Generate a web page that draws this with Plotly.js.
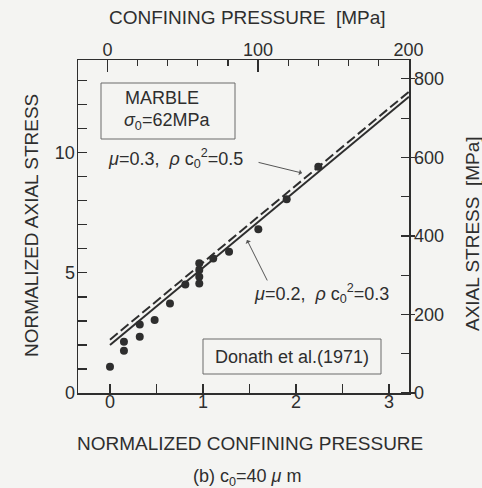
<!DOCTYPE html>
<html>
<head>
<meta charset="utf-8">
<script src="https://cdn.plot.ly/plotly-3.0.1.min.js"></script>
<style>
  html, body { margin: 0; padding: 0; background: #f4f4f2; }
  #chart { width: 482px; height: 488px; }
</style>
</head>
<body>
<div id="chart"></div>
<script>
// Donath et al. (1971) marble data, normalized by sigma0 = 62 MPa
const normConfining = [0.0, 0.15, 0.15, 0.32, 0.32, 0.48, 0.645, 0.81, 0.96, 0.96, 0.96, 0.96, 1.11, 1.28, 1.595, 1.9, 2.24];
const normAxial     = [1.09, 1.76, 2.13, 2.34, 2.85, 3.04, 3.73, 4.52, 5.40, 5.12, 4.84, 4.56, 5.60, 5.88, 6.82, 8.06, 9.42];

// Model curves (end points across the plotted range)
const curveX = [0.0, 3.215];
const curveMu02 = [2.00, 12.33];   // mu = 0.2, rho c0^2 = 0.3 (solid)
const curveMu03 = [2.22, 12.54];   // mu = 0.3, rho c0^2 = 0.5 (dashed)

const sigma0 = 62; // MPa

// Tick labels
const bottomTicks = [0, 1, 2, 3];
const leftTicks = [0, 5, 10];
const topTicks = [0, 100, 200];
const rightTicks = [0, 200, 400, 600, 800];

const ink = '#2e2e2e';
const FONT = 'Liberation Sans, Arial, Helvetica, sans-serif';

// plot area in pixels
const L = 78, R = 409, T = 60, B = 393;
const px = x => (x - L) / (R - L);
const py = y => (B - y) / (B - T);

const traces = [
  {
    x: curveX, y: curveMu02, mode: 'lines', type: 'scatter',
    line: {color: ink, width: 2}, hoverinfo: 'skip', showlegend: false
  },
  {
    x: curveX, y: curveMu03, mode: 'lines', type: 'scatter',
    line: {color: ink, width: 2, dash: '10px,4px'}, hoverinfo: 'skip', showlegend: false
  },
  {
    x: normConfining, y: normAxial, mode: 'markers', type: 'scatter',
    marker: {color: ink, size: 8}, hoverinfo: 'skip', showlegend: false
  },
  // same data in MPa on the secondary axes (keeps the top/right axes active)
  {
    x: normConfining.map(v => v * sigma0), y: normAxial.map(v => v * sigma0),
    xaxis: 'x2', yaxis: 'y2', mode: 'markers', type: 'scatter',
    marker: {opacity: 0, size: 1}, hoverinfo: 'skip', showlegend: false
  }
];

const axisFont = {family: FONT, size: 18, color: ink};
const titleFont = {family: FONT, size: 19, color: ink};

const layout = {
  width: 482, height: 488,
  margin: {l: L, r: 482 - R, t: T, b: 488 - B, pad: 0},
  paper_bgcolor: '#f4f4f2',
  plot_bgcolor: '#f4f4f2',
  font: axisFont,
  showlegend: false,
  xaxis: {
    range: [-0.344, 3.215], tickvals: bottomTicks, ticktext: bottomTicks.map(String),
    ticks: 'inside', ticklen: 9, tickwidth: 1.2, tickcolor: ink,
    minor: {dtick: 0.5, tick0: 0, ticks: 'inside', ticklen: 9, tickcolor: ink, tickwidth: 1.2},
    showline: true, linecolor: ink, linewidth: 1.5, showgrid: false, zeroline: false,
    tickfont: axisFont, ticklabelstandoff: -8
  },
  yaxis: {
    range: [0, 13.86], tickvals: leftTicks, ticktext: leftTicks.map(String),
    ticks: 'inside', ticklen: 9, tickwidth: 1.2, tickcolor: ink,
    minor: {dtick: 1, tick0: 0, ticks: 'inside', ticklen: 9, tickcolor: ink, tickwidth: 1.2},
    showline: true, linecolor: ink, linewidth: 1.5, showgrid: false, zeroline: false,
    tickfont: axisFont, ticklabelstandoff: -2
  },
  xaxis2: {
    overlaying: 'x', side: 'top', anchor: 'y',
    range: [-19.6, 200.3], tickvals: topTicks, ticktext: topTicks.map(String),
    ticks: 'inside', ticklen: 12, tickwidth: 1.2, tickcolor: ink,
    minor: {dtick: 20, tick0: 0, ticks: 'inside', ticklen: 6, tickcolor: ink, tickwidth: 1.2},
    showline: true, linecolor: ink, linewidth: 1.5, showgrid: false, zeroline: false,
    tickfont: axisFont, ticklabelstandoff: -5
  },
  yaxis2: {
    overlaying: 'y', side: 'right', anchor: 'x',
    range: [0, 848], tickvals: rightTicks, ticktext: rightTicks.map(String),
    ticks: 'outside', ticklen: 4, tickwidth: 1.2, tickcolor: ink,
    minor: {dtick: 100, tick0: 0, ticks: 'inside', ticklen: 8, tickcolor: ink, tickwidth: 1.2},
    showline: true, linecolor: ink, linewidth: 1.5, showgrid: false, zeroline: false,
    tickfont: axisFont, ticklabelstandoff: -4
  },
  shapes: [
    {type: 'rect', xref: 'paper', yref: 'paper',
     x0: px(101), x1: px(235), y0: py(139), y1: py(83),
     line: {color: '#6a6a6a', width: 1}, fillcolor: 'rgba(0,0,0,0)'},
    {type: 'rect', xref: 'paper', yref: 'paper',
     x0: px(203), x1: px(381), y0: py(374), y1: py(339),
     line: {color: '#6a6a6a', width: 1}, fillcolor: 'rgba(0,0,0,0)'}
  ],
  annotations: [
    // axis titles
    {xref: 'paper', yref: 'paper', x: px(247), y: py(18), showarrow: false,
     text: 'CONFINING PRESSURE&#160; [MPa]', xanchor: 'center', yanchor: 'middle', font: titleFont},
    {xref: 'paper', yref: 'paper', x: px(250), y: py(443), showarrow: false,
     text: 'NORMALIZED CONFINING PRESSURE', xanchor: 'center', yanchor: 'middle', font: titleFont},
    {xref: 'paper', yref: 'paper', x: px(31), y: py(226), showarrow: false, textangle: -90,
     text: 'NORMALIZED AXIAL STRESS', xanchor: 'center', yanchor: 'middle', font: titleFont},
    {xref: 'paper', yref: 'paper', x: px(472), y: py(234), showarrow: false, textangle: -90,
     text: 'AXIAL STRESS&#160; [MPa]', xanchor: 'center', yanchor: 'middle', font: titleFont},
    {xref: 'paper', yref: 'paper', x: px(247), y: py(477), showarrow: false,
     text: '(b) c<sub>0</sub>=40 <i>μ</i> m', xanchor: 'center', yanchor: 'middle', font: axisFont},
    // boxed labels
    {xref: 'paper', yref: 'paper', x: px(123), y: py(98), showarrow: false,
     text: 'MARBLE', xanchor: 'left', yanchor: 'middle', font: axisFont},
    {xref: 'paper', yref: 'paper', x: px(122), y: py(121), showarrow: false,
     text: '<i>σ</i><sub>0</sub>=62MPa', xanchor: 'left', yanchor: 'middle', font: axisFont},
    {xref: 'paper', yref: 'paper', x: px(292), y: py(357), showarrow: false,
     text: 'Donath et al.(1971)', xanchor: 'center', yanchor: 'middle', font: axisFont},
    // curve labels
    {xref: 'paper', yref: 'paper', x: px(106), y: py(158), showarrow: false,
     text: '<i>μ</i>=0.3,&#160; <i>ρ</i> c<sub>0</sub><sup>2</sup>=0.5', xanchor: 'left', yanchor: 'middle', font: axisFont},
    {xref: 'paper', yref: 'paper', x: px(252), y: py(293), showarrow: false,
     text: '<i>μ</i>=0.2,&#160; <i>ρ</i> c<sub>0</sub><sup>2</sup>=0.3', xanchor: 'left', yanchor: 'middle', font: axisFont},
    // arrows pointing at the curves
    {xref: 'x', yref: 'y', x: 2.065, y: 9.155, ax: -45, ay: -11, text: '',
     showarrow: true, arrowhead: 1, arrowsize: 1, arrowwidth: 1, arrowcolor: '#555'},
    {xref: 'x', yref: 'y', x: 1.473, y: 6.37, ax: 21, ay: 42, text: '',
     showarrow: true, arrowhead: 1, arrowsize: 1, arrowwidth: 1, arrowcolor: '#555'}
  ]
};

Plotly.newPlot('chart', traces, layout, {staticPlot: true, displayModeBar: false});
</script>
</body>
</html>
